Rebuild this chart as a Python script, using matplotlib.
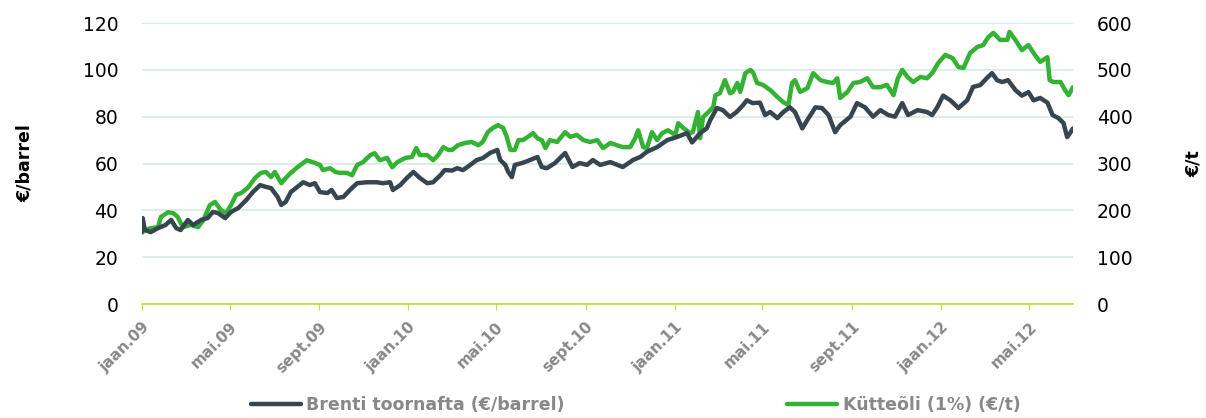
import pandas as pd
import matplotlib.pyplot as plt

# --- andmed (loetud graafikult) ---
ALGUS = "2009-01-01"

brent_paev = [0, 1, 4, 12, 22, 32, 40, 47, 53, 63, 70, 81, 90, 97, 104, 114, 122, 132, 143, 152,
              162, 170, 177, 186, 191, 197, 204, 213, 221, 230, 237, 244, 254, 260, 267, 276, 285, 295, 308, 322,
              330, 340, 344, 354, 363, 372, 381, 391, 399, 409, 415, 425, 432, 440, 450, 459, 467, 477, 487, 491,
              498, 502, 507, 511, 521, 532, 542, 548, 555, 566, 580, 590, 600, 610, 618, 628, 642, 659, 673, 683,
              692, 706, 720, 733, 747, 754, 765, 774, 779, 788, 796, 806, 815, 824, 829, 837, 847, 854, 861, 871,
              879, 888, 895, 905, 912, 923, 932, 941, 950, 957, 971, 980, 991, 1002, 1012, 1023, 1032, 1042, 1050, 1063,
              1076, 1083, 1090, 1098, 1108, 1119, 1131, 1139, 1149, 1158, 1165, 1172, 1179, 1187, 1197, 1206, 1215, 1222, 1231, 1241,
              1248, 1256, 1263, 1268, 1272, 1276]
brent = [31, 36.7, 31.6, 30.7, 32.4, 33.7, 35.9, 32.4, 31.6, 35.9, 33.7, 35.9, 36.7, 39.3, 38.9, 36.7, 39.3, 41, 44.4, 47.8,
         50.8, 50, 49.5, 45.7, 42.3, 43.6, 47.8, 50, 52, 50.8, 51.6, 47.8, 47.4, 48.7, 45.3, 45.7, 48.7, 51.6, 52, 52,
         51.6, 52, 48.7, 50.8, 53.8, 56.4, 53.8, 51.6, 52, 55, 57.2, 57, 58, 57.2, 59.4, 61.5, 62.3, 64.5, 65.8, 61.5,
         59.4, 56.4, 54.2, 59.4, 60.2, 61.5, 62.8, 58.5, 58, 60.2, 64.5, 58.5, 60.2, 59.4, 61.5, 59.4, 60.6, 58.5, 61.5, 62.8,
         65, 67, 70, 71.3, 73, 69, 73, 75, 78.6, 83.7, 82.8, 79.9, 82, 85, 87, 85.8, 86, 80.7, 82, 79.4,
         82, 84, 82, 75, 78.6, 84, 83.7, 80.7, 73.4, 76.4, 80, 85.8, 84, 80, 82.8, 80.7, 80, 85.8, 80.7, 82.8,
         82, 80.7, 84, 89, 87, 83.7, 87, 92.7, 93.5, 96.5, 98.6, 95.6, 94.8, 95.6, 91.4, 89, 90.5, 87, 88, 86,
         80.7, 79.4, 77.3, 71.3, 73, 75]

kytteoli_paev = [0, 4, 12, 22, 26, 36, 43, 49, 56, 67, 77, 84, 93, 100, 108, 115, 122, 129, 136, 145,
                 155, 163, 170, 177, 182, 191, 197, 204, 213, 226, 234, 244, 248, 258, 265, 271, 281, 288, 295, 303,
                 313, 319, 326, 336, 343, 350, 361, 370, 376, 381, 391, 399, 406, 413, 420, 425, 433, 443, 452, 461,
                 467, 474, 481, 488, 495, 500, 505, 511, 516, 522, 529, 536, 542, 548, 553, 559, 569, 580, 587, 596,
                 605, 614, 624, 632, 642, 651, 659, 669, 676, 680, 687, 692, 699, 706, 713, 721, 731, 735, 742, 751,
                 755, 762, 765, 769, 779, 783, 786, 792, 799, 806, 810, 816, 820, 827, 834, 838, 843, 851, 861, 871,
                 879, 886, 891, 895, 902, 912, 920, 930, 939, 947, 953, 957, 967, 975, 984, 994, 1002, 1012, 1021, 1030,
                 1036, 1042, 1049, 1057, 1067, 1076, 1084, 1091, 1101, 1111, 1119, 1126, 1135, 1145, 1153, 1160, 1167, 1176, 1186, 1189,
                 1197, 1206, 1215, 1222, 1231, 1241, 1244, 1249, 1259, 1265, 1270, 1276]
kytteoli = [152, 158, 162, 164, 186, 196, 194, 186, 164, 169, 164, 179, 211, 218, 201, 194, 211, 233, 237, 248,
            269, 280, 282, 271, 282, 258, 269, 280, 292, 307, 303, 297, 286, 290, 282, 280, 280, 275, 297, 303,
            318, 322, 307, 312, 292, 303, 312, 314, 333, 318, 318, 307, 318, 335, 329, 329, 339, 344, 346, 339,
            346, 367, 376, 382, 376, 357, 329, 329, 350, 350, 357, 365, 354, 350, 333, 350, 346, 367, 357, 361,
            350, 346, 350, 333, 344, 339, 335, 335, 354, 371, 335, 333, 367, 350, 365, 371, 361, 386, 376, 365,
            367, 410, 354, 399, 414, 421, 446, 450, 478, 450, 453, 472, 453, 493, 500, 493, 472, 468, 457, 442,
            431, 425, 472, 478, 453, 461, 493, 478, 474, 472, 482, 440, 453, 472, 474, 482, 463, 463, 468, 446,
            482, 500, 485, 474, 485, 482, 495, 514, 532, 525, 506, 504, 536, 549, 553, 570, 579, 564, 564, 581,
            564, 542, 553, 536, 517, 527, 478, 474, 474, 457, 446, 463]

tikk_kuupaevad = ["2009-01-01", "2009-05-01", "2009-09-01", "2010-01-01", "2010-05-01", "2010-09-01",
                  "2011-01-01", "2011-05-01", "2011-09-01", "2012-01-01", "2012-05-01"]
tikk_sildid = ["jaan.09", "mai.09", "sept.09", "jaan.10", "mai.10", "sept.10",
               "jaan.11", "mai.11", "sept.11", "jaan.12", "mai.12"]

algus = pd.Timestamp(ALGUS)
brent_x = algus + pd.to_timedelta(brent_paev, unit="D")
kytteoli_x = algus + pd.to_timedelta(kytteoli_paev, unit="D")

TUME = "#36454f"
ROHE = "#33b233"
HALL = "#888888"
TELG = "#c8dc3c"

fig = plt.figure(figsize=(12.06, 4.18), dpi=100)
ax = fig.add_axes([0.1177, 0.2727, 0.772, 0.6722])
ax2 = ax.twinx()

l1, = ax.plot(brent_x, brent, color=TUME, lw=3.2, solid_capstyle="round",
              label="Brenti toornafta (€/barrel)", zorder=3)
l2, = ax2.plot(kytteoli_x, kytteoli, color=ROHE, lw=3.2, solid_capstyle="round",
               label="Kütteõli (1%) (€/t)", zorder=3)
ax.set_zorder(ax2.get_zorder() + 1)
ax.patch.set_visible(False)

ax.set_ylim(0, 120)
ax.set_yticks(range(0, 121, 20))
ax2.set_ylim(0, 600)
ax2.set_yticks(range(0, 601, 100))
ax.set_xlim(algus, algus + pd.Timedelta(days=1276))

ax2.grid(axis="y", color="#d3ede0", lw=1.2)
ax2.set_axisbelow(True)

for a in (ax, ax2):
    for s in ["top", "left", "right", "bottom"]:
        a.spines[s].set_visible(False)
    a.tick_params(axis="y", length=0, labelsize=13.5, pad=17)

ax.spines["bottom"].set_visible(True)
ax.spines["bottom"].set_color(TELG)
ax.spines["bottom"].set_linewidth(1.3)

ax.set_xticks(pd.to_datetime(tikk_kuupaevad))
ax.set_xticklabels(tikk_sildid, rotation=45, ha="right", rotation_mode="anchor",
                   color=HALL, fontweight="bold", fontsize=11)
ax.tick_params(axis="x", length=4, color=TELG, pad=7)
ax2.tick_params(axis="x", length=0)

ax.set_ylabel("€/barrel", fontsize=12.5, fontweight="bold", labelpad=35)
ax2.set_ylabel("€/t", fontsize=12.5, fontweight="bold", labelpad=38)

leg = fig.legend(handles=[l1, l2], loc="center", bbox_to_anchor=(0.527, 0.03), ncol=2,
                 frameon=False, handlelength=2.9, handletextpad=0.3, columnspacing=12.8,
                 prop={"weight": "bold", "size": 12.5})
for t in leg.get_texts():
    t.set_color(HALL)

fig.savefig("out.png", dpi=100)
